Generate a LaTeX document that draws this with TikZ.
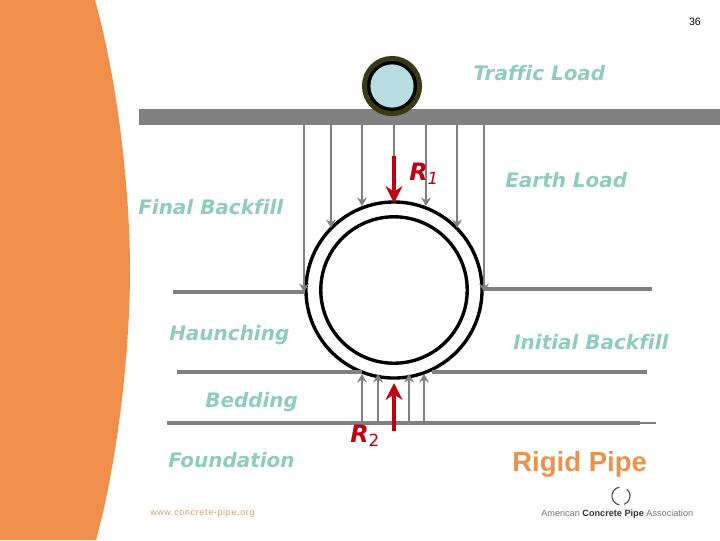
\documentclass[tikz,border=0pt]{standalone}
\usepackage{fontspec}
\usepackage{xcolor}
\setmainfont[Ligatures=NoCommon]{DejaVu Sans}
\newfontfamily\arialfont{Liberation Sans}
\usetikzlibrary{arrows.meta, positioning, calc}

\definecolor{slideorange}{HTML}{EF8F4B}
\definecolor{labelteal}{HTML}{8FCBBF}
\definecolor{loadgray}{HTML}{808080}
\definecolor{reactred}{HTML}{C00010}
\definecolor{wheelrim}{HTML}{3A3A14}
\definecolor{wheelblue}{HTML}{B7DCE2}
\definecolor{rigidorange}{HTML}{E8924A}
\definecolor{siteorange}{HTML}{CC9C6C}

\tikzset{
  layerlabel/.style={text=labelteal, font=\fontsize{14.2}{16}\selectfont\bfseries\itshape, inner sep=0pt},
  reactlabel/.style={text=reactred, font=\fontsize{17}{18}\selectfont\bfseries\itshape, inner sep=0pt},
  layerline/.style={draw=loadgray, line width=2.2pt},
  loadline/.style={draw=loadgray, line width=2pt, -{Stealth[length=6pt,width=7pt]}},
  reactarrow/.style={draw=reactred, line width=3.4pt, -{Stealth[length=12pt,width=12pt]}}
}

\begin{document}
\begin{tikzpicture}[x=0.025cm, y=-0.025cm]
      \useasboundingbox (0,0) rectangle (720,540);
      \fill[slideorange] (0,0) -- (95,0) .. controls (120,90) and (130,200) .. (130,270)
        .. controls (130,350) and (118,460) .. (96,540) -- (0,540) -- cycle;

      \node[fill=loadgray, minimum width=14.525cm, minimum height=0.4cm, inner sep=0pt] (road) at (429.5,117) {};
      \node[circle, draw=wheelrim, line width=3.5pt, fill=black, minimum size=1.38cm, inner sep=0pt] (wheelrim) at (392,86) {};
      \node[circle, fill=wheelblue, minimum size=1.08cm, inner sep=0pt] (wheel) at (392,86) {};

      \node[circle, draw, line width=2.4pt, minimum size=4.4cm, inner sep=0pt] (pipeouter) at (394,290) {};
      \node[circle, draw, line width=2.4pt, minimum size=3.66cm, inner sep=0pt] (pipeinner) at (394,290) {};

      % earth load lines
      \foreach \name/\x/\yend in {a/304/292, b/331/228, c/362/206, d/426/206, e/457/228, f/484/292} {
        \coordinate (top\name) at (\x,125);
        \coordinate (end\name) at (\x,\yend);
        \draw[loadline] (top\name) -- (end\name);
      }
      \coordinate (topr) at (394,125);
      \coordinate (startr) at (394,156);
      \coordinate (endr) at (394,203);
      \draw[draw=loadgray, line width=2pt] (topr) -- (startr);
      \draw[reactarrow] (startr) -- (endr);

      % layer lines
      \coordinate (la) at (173,292);  \coordinate (lb) at (305,292);
      \coordinate (lc) at (484,289);  \coordinate (ld) at (652,289);
      \coordinate (le) at (177,372);  \coordinate (lf) at (362,372);
      \coordinate (lg) at (432,372);  \coordinate (lh) at (647,372);
      \coordinate (li) at (167,423);  \coordinate (lj) at (640,423);
      \coordinate (lk) at (656,423);
      \draw[layerline] (la) -- (lb);
      \draw[layerline] (lc) -- (ld);
      \draw[layerline] (le) -- (lf);
      \draw[layerline] (lg) -- (lh);
      \draw[layerline] (li) -- (lj);
      \draw[draw=loadgray, line width=0.8pt] (lj) -- (lk);

      % bedding reactions
      \foreach \name/\x in {a/362, b/378, c/409, d/424} {
        \coordinate (base\name) at (\x,423);
        \coordinate (tip\name) at (\x,374);
        \draw[loadline] (base\name) -- (tip\name);
      }
      \coordinate (baser) at (394,431);
      \coordinate (tipr) at (394,383);
      \draw[reactarrow] (baser) -- (tipr);

      \node[layerlabel, anchor=west] (traffic) at (473,73) {Traffic Load};
      \node[layerlabel, anchor=west] (earth) at (505,180) {Earth Load};
      \node[layerlabel, anchor=west] (final) at (138,207) {Final Backfill};
      \node[layerlabel, anchor=west] (haunching) at (169,335) {Haunching};
      \node[layerlabel, anchor=west] (initial) at (513,342) {Initial Backfill};
      \node[layerlabel, anchor=west] (bedding) at (205,402) {Bedding};
      \node[layerlabel, anchor=west] (foundation) at (168,460) {Foundation};

      \node[reactlabel, anchor=west] (rone) at (409,174) {R\textsubscript{\normalfont\itshape 1}};
      \node[reactlabel, anchor=west] (rtwo) at (350,436) {R\textsubscript{\normalfont 2}};

      \node[anchor=west, inner sep=0pt, text=rigidorange, font=\arialfont\fontsize{19.6}{21}\selectfont\bfseries] (rigid) at (512,464) {Rigid Pipe};
      \node[anchor=east, inner sep=0pt, font=\arialfont\fontsize{7.5}{8}\selectfont] (page) at (701,22) {36};
      \node[anchor=west, inner sep=0pt, text=siteorange, font=\arialfont\fontsize{6.3}{7}\selectfont\addfontfeatures{LetterSpace=8}] (site) at (150,513) {www.concrete-pipe.org};

      \node[anchor=west, inner sep=0pt, text=black!55, font=\arialfont\fontsize{6.5}{7}\selectfont] (assoc) at (541,514) {American \textcolor{black!80}{\textbf{Concrete Pipe}} Association};
      \draw[black!70, line width=0.8pt] (619.4,487.1) arc (-100:-260:9);
      \draw[black!70, line width=0.8pt] (626.8,489.1) arc (-50:70:9);
\end{tikzpicture}
\end{document}
